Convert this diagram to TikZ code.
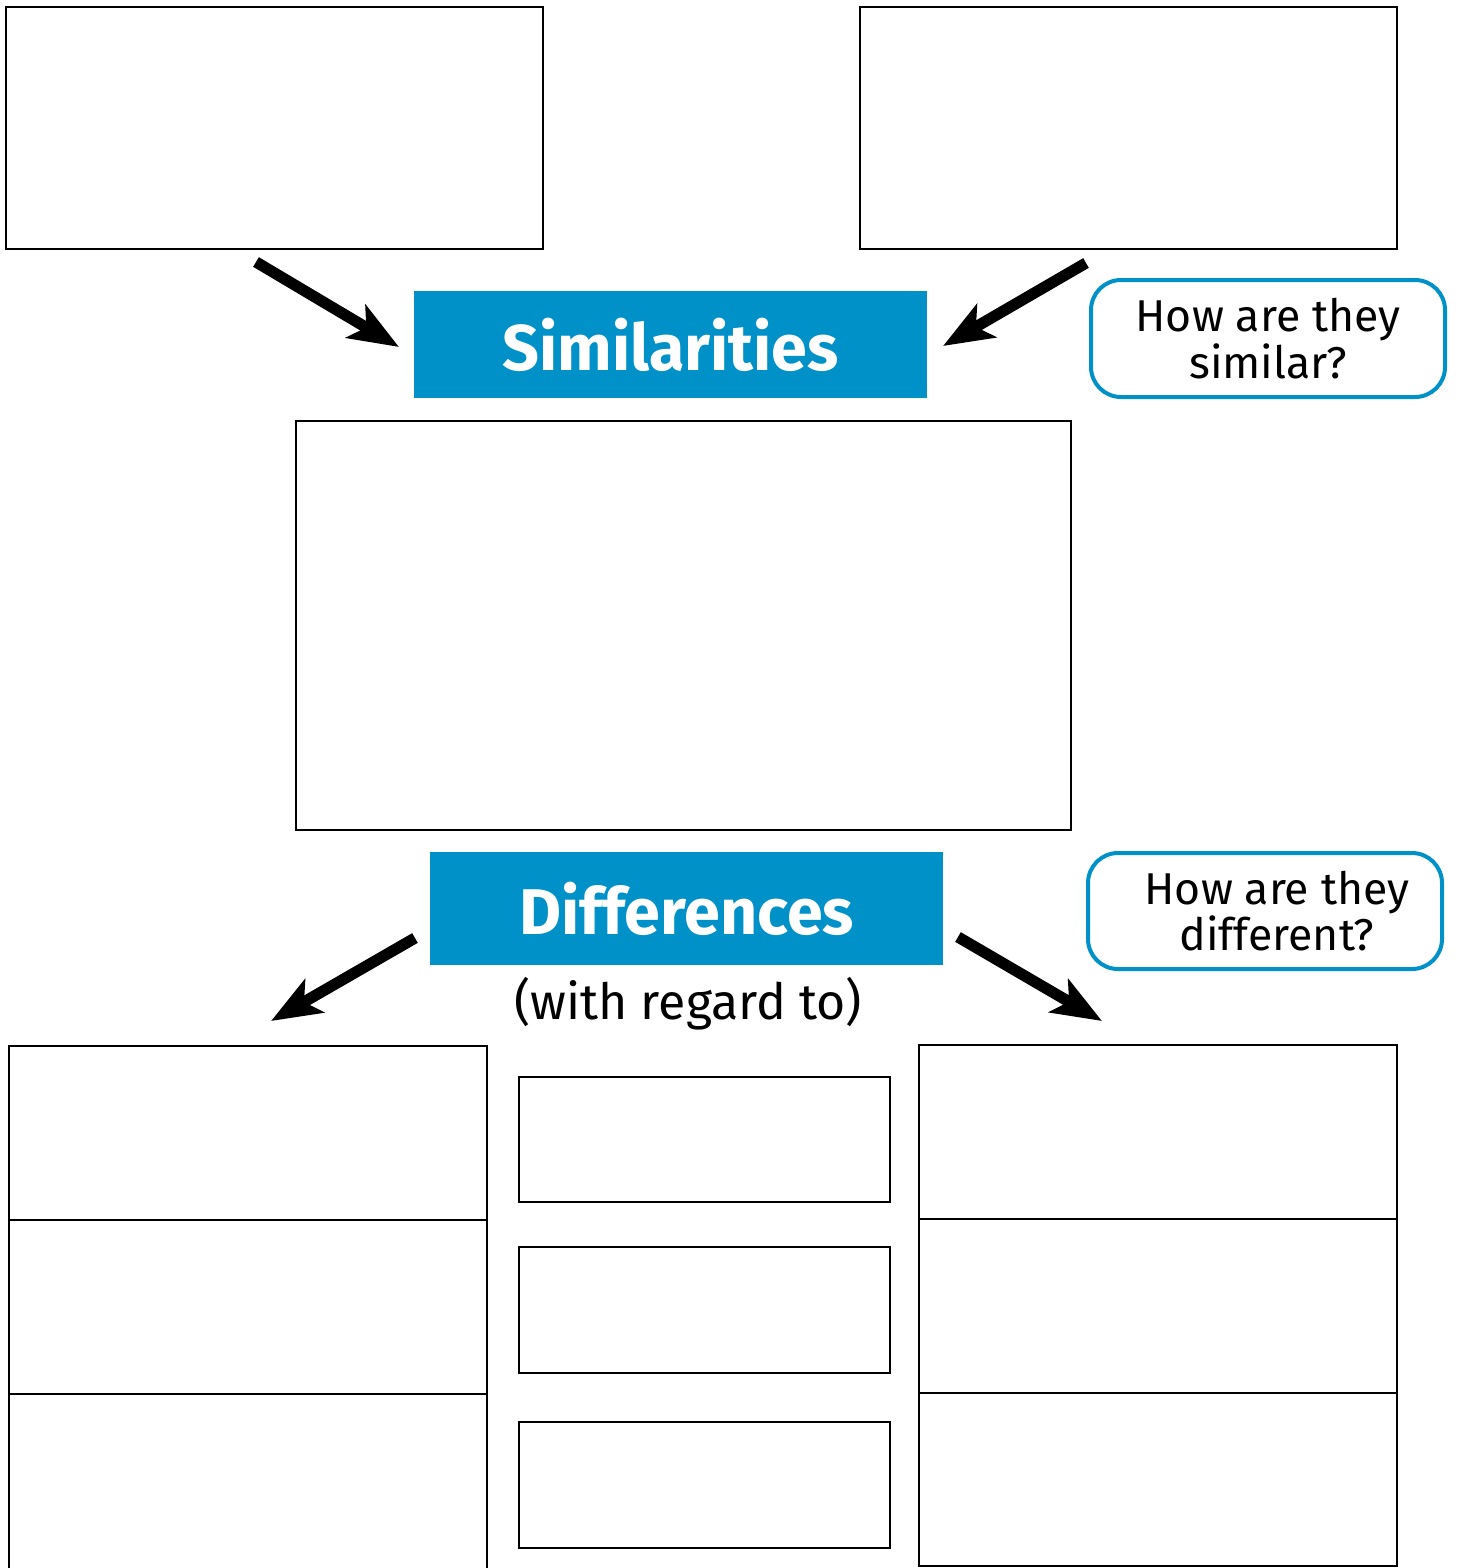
\documentclass[tikz,border=0pt]{standalone}
\usepackage{fontspec}
\setmainfont{Fira Sans}
\usetikzlibrary{arrows.meta}
\definecolor{hdblue}{RGB}{0,145,200}
\begin{document}
\begin{tikzpicture}[x=0.5pt,y=-0.5pt,
  box/.style={draw=black,line width=1.1pt,fill=white,inner sep=0pt},
  head/.style={fill=hdblue,inner sep=0pt,text=white,font=\fontsize{32.3}{35}\selectfont\bfseries},
  ask/.style={draw=hdblue,line width=2pt,rounded corners=15pt,inner sep=0pt,align=center,
    font=\fontsize{22.3}{21.8}\selectfont},
  bigarrow/.style={line width=5.6pt,-{Stealth[length=25pt,width=19pt,inset=6pt]}}]
\useasboundingbox (0,0) rectangle (1459,1568);
% top boxes
\node[box,minimum width=268.5pt,minimum height=121pt] (tl) at (274.5,128) {};
\node[box,minimum width=268.5pt,minimum height=121pt] (tr) at (1128.5,128) {};
% headers
\node[head,minimum width=256.5pt,minimum height=53.5pt] (sim) at (670.5,344.5) {Similarities};
\node[ask,minimum width=177pt,minimum height=58.5pt] (q1) at (1268,338.5) {How are they\\similar?};
% big box
\node[box,minimum width=387.5pt,minimum height=204.5pt] (mid) at (683.5,625.5) {};
\node[head,minimum width=256.5pt,minimum height=56.5pt] (dif) at (686.5,908.5) {Differences};
\node[ask,minimum width=177pt,minimum height=58pt] (q2) at (1265,911) {\hspace*{12pt}How are they\\\hspace*{12pt}different?};
\node[font=\fontsize{25}{27}\selectfont] (wrt) at (688,1004) {(with regard to)};
% left column
\node[box,minimum width=239pt,minimum height=87pt] (l1) at (248,1133) {};
\node[box,minimum width=239pt,minimum height=87pt] (l2) at (248,1307) {};
\node[box,minimum width=239pt,minimum height=110pt] (l3) at (248,1504) {};
% middle column
\node[box,minimum width=185.5pt,minimum height=62.5pt] (m1) at (704.5,1139.5) {};
\node[box,minimum width=185.5pt,minimum height=63pt] (m2) at (704.5,1310) {};
\node[box,minimum width=185.5pt,minimum height=63pt] (m3) at (704.5,1485) {};
% right column
\node[box,minimum width=239pt,minimum height=87pt] (r1) at (1158,1132) {};
\node[box,minimum width=239pt,minimum height=87pt] (r2) at (1158,1306) {};
\node[box,minimum width=239pt,minimum height=86.5pt] (r3) at (1158,1479.5) {};
% arrows
\coordinate (a1s) at (256,262); \coordinate (a1e) at (399,347);
\coordinate (a2s) at (1086,263); \coordinate (a2e) at (943,346);
\coordinate (a3s) at (415,938); \coordinate (a3e) at (271,1021);
\coordinate (a4s) at (958,937); \coordinate (a4e) at (1102,1021);
\draw[bigarrow] (a1s) -- (a1e);
\draw[bigarrow] (a2s) -- (a2e);
\draw[bigarrow] (a3s) -- (a3e);
\draw[bigarrow] (a4s) -- (a4e);
\end{tikzpicture}
\end{document}
